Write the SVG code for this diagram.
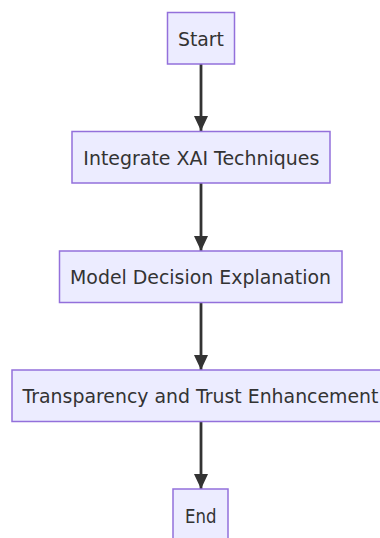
<svg xmlns="http://www.w3.org/2000/svg" width="380" height="538" viewBox="0 0 380 538">
<defs>
<style>
.node rect{fill:#ECECFF;stroke:#9370DB;stroke-width:1.5}
.node text{font-family:"DejaVu Sans","Liberation Sans",sans-serif;font-size:19px;fill:#333333;text-anchor:middle}
.edge{stroke:#333333;stroke-width:2.8;fill:none}
</style>
<marker id="arr" markerWidth="15" markerHeight="14" refX="15" refY="7" orient="auto" markerUnits="userSpaceOnUse" viewBox="0 0 15 14">
<path d="M0,0 L15,7 L0,14 Z" fill="#333333"/>
</marker>
</defs>
<rect width="380" height="538" fill="#ffffff"/>
<g id="connectors">
<line class="edge" x1="201" y1="64" x2="201" y2="131" marker-end="url(#arr)"/>
<line class="edge" x1="201" y1="183" x2="201" y2="251" marker-end="url(#arr)"/>
<line class="edge" x1="201" y1="303" x2="201" y2="370" marker-end="url(#arr)"/>
<line class="edge" x1="201" y1="422" x2="201" y2="489" marker-end="url(#arr)"/>
</g>
<g id="start" class="node"><rect x="167.5" y="12.5" width="67" height="51.5"/><text x="201" y="45.5" textLength="46" lengthAdjust="spacingAndGlyphs">Start</text></g>
<g id="integrate" class="node"><rect x="72" y="131.5" width="258" height="51.5"/><text x="201.3" y="164.5" textLength="236" lengthAdjust="spacingAndGlyphs">Integrate XAI Techniques</text></g>
<g id="model" class="node"><rect x="59.5" y="251" width="282.5" height="51.5"/><text x="200.5" y="284" textLength="261" lengthAdjust="spacingAndGlyphs">Model Decision Explanation</text></g>
<g id="transparency" class="node"><rect x="12" y="370" width="378" height="51.5"/><text x="200.5" y="403" textLength="356" lengthAdjust="spacingAndGlyphs">Transparency and Trust Enhancement</text></g>
<g id="end" class="node"><rect x="173" y="489" width="55" height="51.5"/><text x="200.8" y="523" textLength="31.5" lengthAdjust="spacingAndGlyphs">End</text></g>
</svg>
